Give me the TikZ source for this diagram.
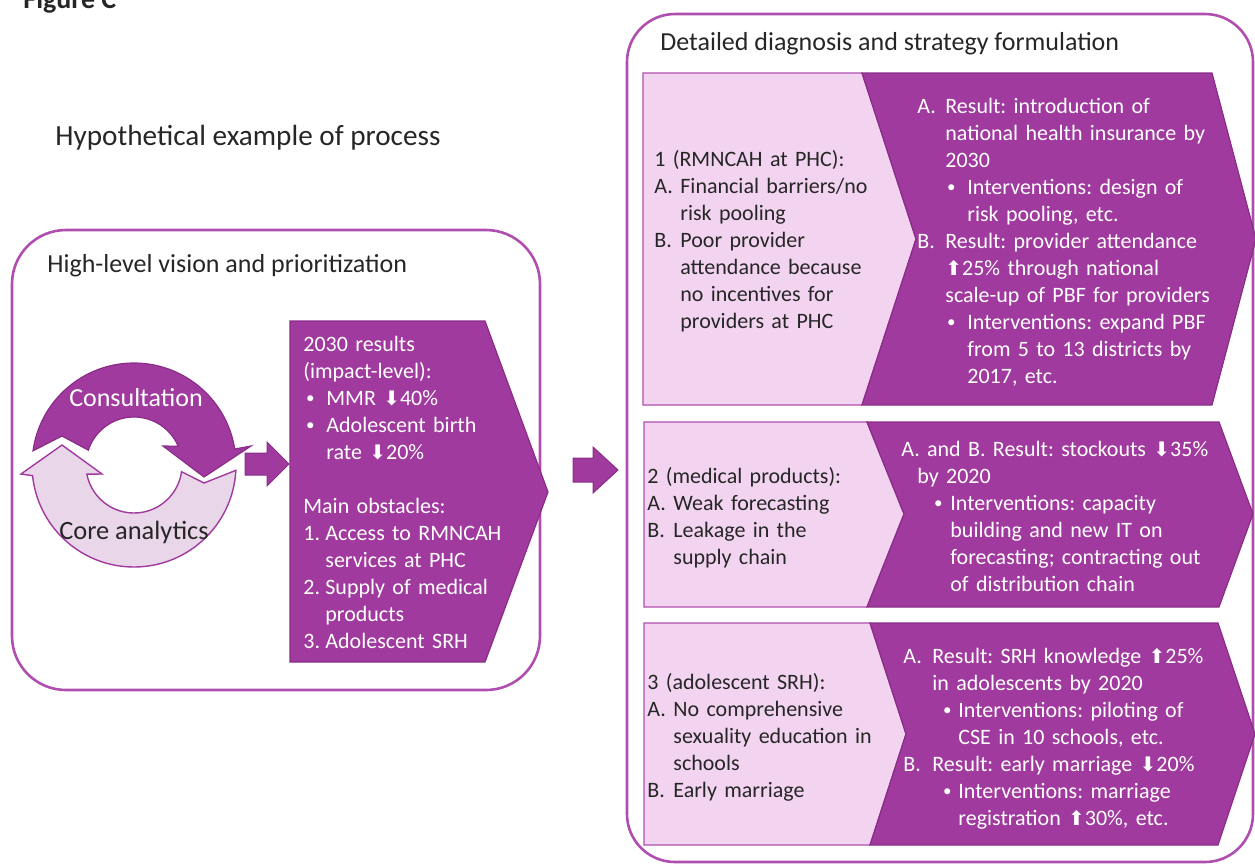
\documentclass[tikz,border=0pt]{standalone}
\usepackage{fontspec}
\setmainfont{Carlito}
\newfontfamily\arrowfont{DejaVu Sans}
\usepackage{tikz}

\definecolor{plum}{RGB}{160,58,158}
\definecolor{plumline}{RGB}{138,44,136}
\definecolor{blush}{RGB}{243,212,240}
\definecolor{lilac}{RGB}{233,214,233}
\definecolor{frame}{RGB}{176,78,176}
\definecolor{ink}{RGB}{38,38,38}

\frenchspacing
\newcommand{\arrdn}{{\arrowfont\fontsize{10}{12}\selectfont\char"2B07}}
\newcommand{\arrup}{{\arrowfont\fontsize{10}{12}\selectfont\char"2B06}}
% bullet centred at #1, text from #2
\newcommand{\bul}[2]{\hspace*{#1}\makebox[0pt][c]{\fontsize{8.5}{10}\selectfont\raisebox{0.8pt}{•}}\hspace*{\dimexpr#2-#1\relax}}

\begin{document}
\begin{tikzpicture}[x=0.5pt, y=-0.5pt,
  body/.style={anchor=base west, inner sep=0pt, text width=175pt, align=left,
    font=\fontsize{11}{13.5}\selectfont},
  dark/.style={body, text=white},
  light/.style={body, text=ink},
  head/.style={anchor=base west, inner sep=0pt, text=ink, font=\fontsize{13}{15}\selectfont},
  chev/.style={fill=plum, draw=plumline, line width=0.6pt},
  pale/.style={fill=blush, draw=frame, line width=0.6pt},
  panel/.style={draw=frame, line width=1.3pt},
  consult/.style={fill=plum, draw=plumline, line width=0.6pt},
  core/.style={fill=lilac, draw=plum, line width=0.7pt},
  blockarrow/.style={fill=plum, draw=plumline, line width=0.5pt}]
\path[use as bounding box, clip] (0,0) rectangle (1255,864);

\node (figlabel) at (23,8) [anchor=base west, inner sep=0pt, text=ink,
  font=\bfseries\fontsize{14}{16}\selectfont] {Figure C};
\node (process) at (55,145) [head, font=\fontsize{14.6}{17}\selectfont] {Hypothetical example of process};

% left panel
\draw[panel, rounded corners=27pt] (12,230) rectangle (540,690);
\node (vision) at (47,272) [head] {High-level vision and prioritization};

\begin{scope}[shift={(134,465)}, y=0.5pt]
  \draw[consult] (172:102) arc[start angle=172, end angle=9, radius=102]
    -- (117,19) -- (70,-12) -- (29,19) -- (23:48)
    arc[start angle=23, end angle=162, radius=48] -- (-72,29) -- cycle;
  \draw[core] (-3:102) arc[start angle=-3, end angle=-174, radius=102]
    -- (-113,-9) -- (-72,20) -- (-32,-9) -- (-169:48)
    arc[start angle=-169, end angle=-8, radius=48] -- (70,-18) -- cycle;
\end{scope}
\node (consultation) at (136,406) [anchor=base, inner sep=0pt, text=white,
  font=\fontsize{13}{15}\selectfont] {Consultation};
\node (analytics) at (134,539) [anchor=base, inner sep=0pt, text=ink,
  font=\fontsize{13.2}{15}\selectfont] {Core analytics};

\draw[blockarrow] (245,453) -- (267,453) -- (267,442) -- (289,464)
  -- (267,486) -- (267,475) -- (245,475) -- cycle;

\draw[chev] (290,321) -- (485,321) -- (548,492) -- (485,662) -- (290,662) -- cycle;
\node (results) at (303,351) [dark] {2030 results\\
(impact-level):\\
\bul{3.5pt}{11.5pt}MMR \arrdn40\%\\
\bul{3.5pt}{11.5pt}Adolescent birth\\
\hspace*{11.5pt}rate \arrdn20\%\\[13.5pt]
Main obstacles:\\
\makebox[11pt][l]{1.}Access to RMNCAH\\
\hspace*{11pt}services at PHC\\
\makebox[11pt][l]{2.}Supply of medical\\
\hspace*{11pt}products\\
\makebox[11pt][l]{3.}Adolescent SRH};

\draw[blockarrow] (573,458) -- (593,458) -- (593,447) -- (618,470)
  -- (593,493) -- (593,482) -- (573,482) -- cycle;

% right panel
\draw[panel, rounded corners=24pt] (627,14) rectangle (1253,862);
\node (detail) at (660,50) [head] {Detailed diagnosis and strategy formulation};

% row 1
\draw[pale] (643,73) -- (862,73) -- (916,239) -- (862,405) -- (643,405) -- cycle;
\draw[chev] (862,73) -- (1212,73) -- (1256,239) -- (1212,405) -- (862,405) -- (916,239) -- cycle;
\node (need1) at (654,166) [light] {1 (RMNCAH at PHC):\\
\makebox[13pt][l]{A.}Financial barriers/no\\
\hspace*{13pt}risk pooling\\
\makebox[13pt][l]{B.}Poor provider\\
\hspace*{13pt}attendance because\\
\hspace*{13pt}no incentives for\\
\hspace*{13pt}providers at PHC};
\node (plan1) at (917,113) [dark] {\makebox[14pt][l]{A.}Result: introduction of\\
\hspace*{14pt}national health insurance by\\
\hspace*{14pt}2030\\
\bul{17pt}{25pt}Interventions: design of\\
\hspace*{25pt}risk pooling, etc.\\
\makebox[14pt][l]{B.}Result: provider attendance\\
\hspace*{14pt}\arrup25\% through national\\
\hspace*{14pt}scale-up of PBF for providers\\
\bul{17pt}{25pt}Interventions: expand PBF\\
\hspace*{25pt}from 5 to 13 districts by\\
\hspace*{25pt}2017, etc.};

% row 2
\draw[pale] (644,422) -- (867,422) -- (904,514) -- (867,607) -- (644,607) -- cycle;
\draw[chev] (867,422) -- (1219,422) -- (1253,514) -- (1219,607) -- (867,607) -- (904,514) -- cycle;
\node (need2) at (647,483) [light] {2 (medical products):\\
\makebox[13pt][l]{A.}Weak forecasting\\
\makebox[13pt][l]{B.}Leakage in the\\
\hspace*{13pt}supply chain};
\node (plan2) at (901,456) [dark] {A. and B. Result: stockouts \arrdn35\%\\
\hspace*{8pt}by 2020\\
\bul{18.5pt}{24.5pt}Interventions: capacity\\
\hspace*{24.5pt}building and new IT on\\
\hspace*{24.5pt}forecasting; contracting out\\
\hspace*{24.5pt}of distribution chain};

% row 3
\draw[pale] (644,623) -- (870,623) -- (906,734) -- (870,845) -- (644,845) -- cycle;
\draw[chev] (870,623) -- (1218,623) -- (1255,734) -- (1218,845) -- (870,845) -- (906,734) -- cycle;
\node (need3) at (647,689) [light] {3 (adolescent SRH):\\
\makebox[13pt][l]{A.}No comprehensive\\
\hspace*{13pt}sexuality education in\\
\hspace*{13pt}schools\\
\makebox[13pt][l]{B.}Early marriage};
\node (plan3) at (903,663) [dark] {\makebox[14.5pt][l]{A.}Result: SRH knowledge \arrup25\%\\
\hspace*{14.5pt}in adolescents by 2020\\
\bul{22pt}{27.5pt}Interventions: piloting of\\
\hspace*{27.5pt}CSE in 10 schools, etc.\\
\makebox[14.5pt][l]{B.}Result: early marriage \arrdn20\%\\
\bul{22pt}{27.5pt}Interventions: marriage\\
\hspace*{27.5pt}registration \arrup30\%, etc.};
\end{tikzpicture}
\end{document}
